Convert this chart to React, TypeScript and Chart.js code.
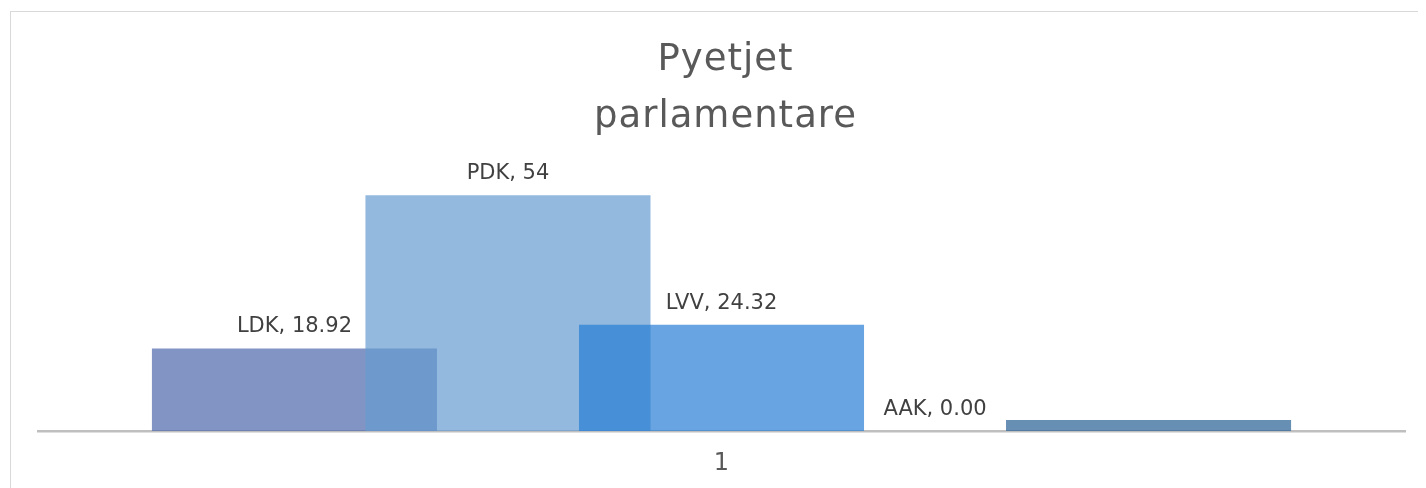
import React, { useEffect, useRef } from "react";
import { Chart, registerables } from "chart.js";

Chart.register(...registerables);

const titleLines = ["Pyetjet", "parlamentare"];
const categories = ["1"];
const seriesNames = ["LDK", "PDK", "LVV", "AAK", "Të tjerë"];
const seriesValues = [18.92, 54, 24.32, 0, 2.5];
const labelDecimals = [2, 0, 2, 2, -1]; // -1: label not shown
const seriesColors = [
  "rgba(76, 102, 171, 0.7)",
  "rgba(102, 155, 208, 0.7)",
  "rgba(39, 126, 212, 0.7)",
  "rgba(60, 110, 170, 0.7)",
  "rgba(39, 95, 148, 0.7)",
];

// Draw datasets left-to-right so later bars sit on top (as in the reference),
// then the "name, value" labels and the title.
const drawPlugin = {
  id: "customDraw",
  beforeDatasetsDraw(chart: any) {
    const metas = chart.getSortedVisibleDatasetMetas();
    for (const meta of metas) {
      chart._drawDataset(meta);
    }
    return false;
  },
  afterDraw(chart: any) {
    const ctx = chart.ctx;
    ctx.save();
    ctx.font = "21px 'DejaVu Sans'";
    ctx.fillStyle = "#404040";
    ctx.textAlign = "center";
    ctx.textBaseline = "alphabetic";
    chart.data.datasets.forEach((ds: any, i: number) => {
      const d = labelDecimals[i];
      if (d < 0) return;
      const meta = chart.getDatasetMeta(i);
      const bar = meta.data[0];
      if (!bar) return;
      const text = `${seriesNames[i]}, ${seriesValues[i].toFixed(d)}`;
      ctx.fillText(text, bar.x, bar.y - 16);
    });
    ctx.restore();

    ctx.save();
    ctx.font = "37px 'DejaVu Sans'";
    ctx.fillStyle = "#595959";
    ctx.textAlign = "center";
    ctx.textBaseline = "alphabetic";
    (ctx as any).letterSpacing = "1px";
    const cx = (chart.chartArea.left + chart.chartArea.right) / 2 + 4;
    titleLines.forEach((line, i) => {
      ctx.fillText(line, cx, 62 + i * 57);
    });
    ctx.restore();
  },
};

export default function App() {
  const ref = useRef<HTMLCanvasElement | null>(null);
  useEffect(() => {
    if (!ref.current) return;
    const chart = new Chart(ref.current, {
      type: "bar",
      data: {
        labels: categories,
        datasets: seriesNames.map((name, i) => ({
          label: name,
          data: [seriesValues[i]],
          backgroundColor: seriesColors[i],
          borderWidth: 0,
          categoryPercentage: 0.781,
          barPercentage: 1.335,
        })),
      },
      options: {
        animation: false,
        responsive: false,
        maintainAspectRatio: false,
        layout: { padding: { left: 30, right: 21, top: 161, bottom: 0 } },
        plugins: {
          legend: { display: false },
          tooltip: { enabled: false },
          title: { display: false },
        },
        scales: {
          x: {
            grid: { display: false, drawTicks: false },
            border: { display: true, color: "#bfbfbf", width: 2.5 },
            ticks: {
              color: "#595959",
              font: { family: "'DejaVu Sans'", size: 24 },
              padding: 18,
            },
            afterFit(scale: any) {
              scale.height = 57;
            },
          },
          y: {
            display: false,
            min: 0,
            max: 60,
          },
        },
      },
      plugins: [drawPlugin],
    });
    return () => chart.destroy();
  }, []);

  return (
    <div style={{ position: "relative", width: 1418, height: 480, overflow: "hidden" }}>
      <div
        style={{
          position: "absolute",
          left: 2,
          top: 3,
          width: 1600,
          height: 700,
          border: "1px solid #d9d9d9",
          boxSizing: "border-box",
        }}
      />
      <canvas
        ref={ref}
        width={1418}
        height={480}
        style={{ position: "absolute", left: 0, top: 0, width: 1418, height: 480 }}
      />
    </div>
  );
}
